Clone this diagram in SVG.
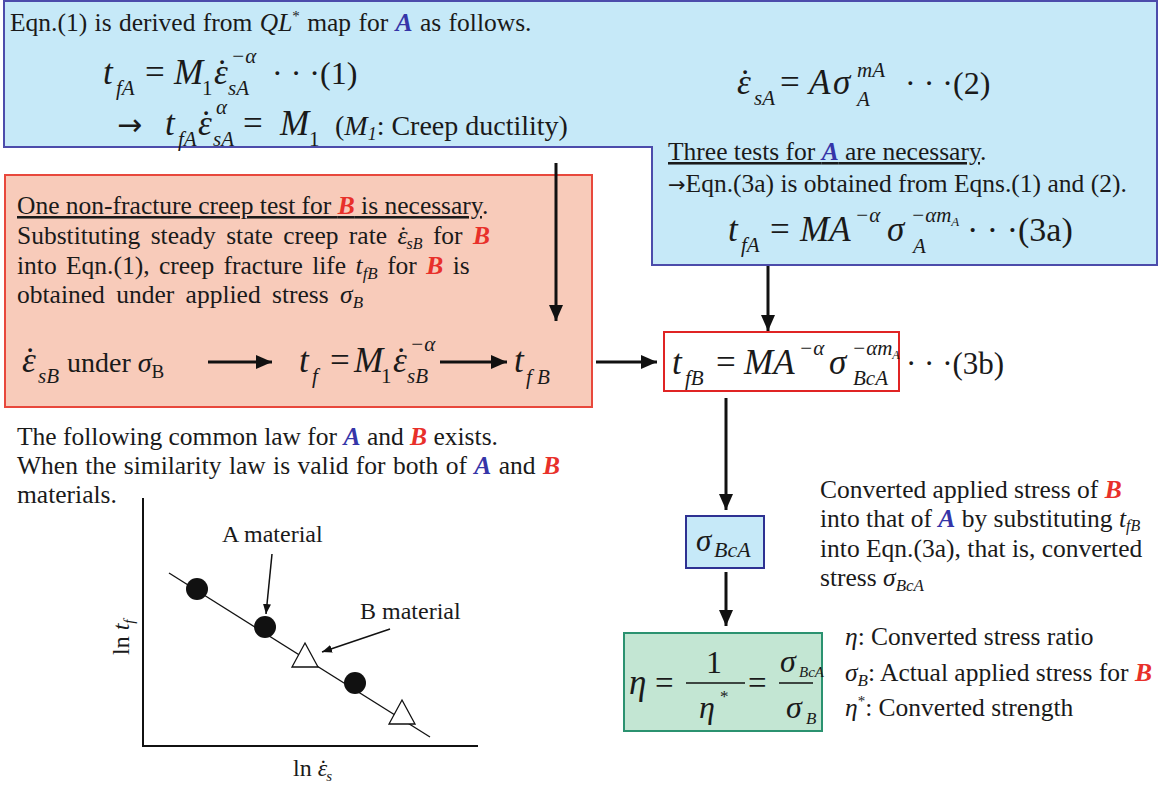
<svg xmlns="http://www.w3.org/2000/svg" width="1158" height="786" viewBox="0 0 1158 786">
<style>
text{font-family:"Liberation Serif","Times New Roman",serif;fill:#1a1a1a}
.i{font-style:italic}
.n{font-style:normal}
.A{fill:#3535a8;font-weight:bold;font-style:italic}
.B{fill:#e8302a;font-weight:bold;font-style:italic}
.b{font-size:25.5px}
.eq{font-size:35px}
.eqi{font-size:35px;font-style:italic}
.s{font-size:21px;font-style:italic}
.arr{font-family:"DejaVu Sans",sans-serif}
.u{text-decoration:underline}
.ar{stroke:#111;stroke-width:3;fill:none}
.thin{stroke:#111;stroke-width:1.5;fill:none}
</style>
<defs>
<marker id="ah" markerUnits="userSpaceOnUse" markerWidth="16" markerHeight="14" refX="16" refY="7" orient="auto"><path d="M0,0 L16,7 L0,14 z" fill="#111"/></marker>
<marker id="ahs" markerUnits="userSpaceOnUse" markerWidth="10" markerHeight="8" refX="10" refY="4" orient="auto"><path d="M0,0 L10,4 L0,8 z" fill="#111"/></marker>
</defs>

<g id="nodeA">
<path d="M4,1 H1157 V265 H652 V147 H4 Z" fill="#c6e9f8" stroke="#4c4cab" stroke-width="2"/>
<text x="10" y="31" class="b" word-spacing="1">Eqn.(1) is derived from <tspan class="i">QL</tspan><tspan dy="-10" font-size="15">*</tspan><tspan dy="10"> map for </tspan><tspan class="A">A</tspan> as follows.</text>
<text x="103" y="84" class="eqi">t</text><text x="116" y="95" class="s">fA</text>
<text x="145" y="84" class="eq">=</text>
<text x="174" y="84" class="eqi">M</text><text x="202" y="95" font-size="21">1</text>
<text x="214" y="84" class="eqi">&#x3B5;<tspan class="n" dx="-11.5">&#x2D9;</tspan></text>
<text x="231" y="63" class="s">&#x2212;&#x3B1;</text><text x="228" y="95" class="s">sA</text>
<text x="272" y="84" font-size="32">&#xB7; &#xB7; &#xB7;(1)</text>
<text x="117" y="135" class="arr" font-size="30">&#x2192;</text>
<text x="165" y="135" class="eqi">t</text><text x="178" y="146" class="s">fA</text>
<text x="198" y="135" class="eqi">&#x3B5;<tspan class="n" dx="-11.5">&#x2D9;</tspan></text>
<text x="216" y="114" class="s">&#x3B1;</text><text x="213" y="146" class="s">sA</text>
<text x="243" y="135" class="eq">=</text>
<text x="280" y="135" class="eqi">M</text><text x="309" y="146" font-size="21">1</text>
<text x="335" y="135" font-size="28">(<tspan class="i">M</tspan><tspan class="i" font-size="18" dy="5">1</tspan><tspan dy="-5">: Creep ductility)</tspan></text>

<text x="737" y="94" class="eqi">&#x3B5;<tspan class="n" dx="-11.5">&#x2D9;</tspan></text><text x="754" y="105" class="s">sA</text>
<text x="780" y="94" class="eq">=</text>
<text x="809" y="94" class="eqi">A</text><text x="833" y="94" class="eqi">&#x3C3;</text>
<text x="857" y="77" class="s" font-size="19">mA</text><text x="857" y="106" class="s" font-size="19">A</text>
<text x="905" y="94" font-size="32">&#xB7; &#xB7; &#xB7;(2)</text>

<text x="668" y="160" class="b"><tspan class="u">Three tests for <tspan class="A">A</tspan> are necessary</tspan>.</text>
<text x="668" y="192" class="b"><tspan class="arr" font-size="21">&#x2192;</tspan>Eqn.(3a) is obtained from Eqns.(1) and (2).</text>
<text x="728" y="241" class="eqi">t</text><text x="741" y="252" class="s">fA</text>
<text x="770" y="241" class="eq">=</text>
<text x="800" y="241" class="eqi">MA</text><text x="855" y="222" class="s">&#x2212;&#x3B1;</text>
<text x="887" y="241" class="eqi">&#x3C3;</text>
<text x="911" y="222" class="s" font-size="19">&#x2212;&#x3B1;m<tspan font-size="13" dy="4">A</tspan></text>
<text x="913" y="253" class="s" font-size="19">A</text>
<text x="967" y="241" font-size="34">&#xB7; &#xB7; &#xB7;(3a)</text>
</g>

<g id="nodeB">
<rect x="5" y="175" width="587" height="232" fill="#f8cbba" stroke="#e8483c" stroke-width="2"/>
<text x="17" y="214" class="b"><tspan class="u">One non-fracture creep test for <tspan class="B">B</tspan> is necessary</tspan>.</text>
<text x="17" y="244" class="b" word-spacing="4">Substituting steady state creep rate <tspan class="i">&#x3B5;</tspan><tspan dx="-8.5">&#x2D9;</tspan><tspan class="i" font-size="16" dx="-1" dy="5">sB</tspan><tspan dy="-5"> for </tspan><tspan class="B">B</tspan></text>
<text x="17" y="274" class="b" word-spacing="3">into Eqn.(1), creep fracture life <tspan class="i">t</tspan><tspan class="i" font-size="17" dy="5">fB</tspan><tspan dy="-5"> for </tspan><tspan class="B">B</tspan> is</text>
<text x="17" y="303" class="b" word-spacing="5">obtained under applied stress <tspan class="i">&#x3C3;</tspan><tspan class="i" font-size="17" dy="5">B</tspan></text>
<text x="22" y="372" class="eqi">&#x3B5;<tspan class="n" dx="-11.5">&#x2D9;</tspan></text><text x="38" y="383" class="s">sB</text>
<text x="67" y="372" font-size="28">under <tspan class="i">&#x3C3;</tspan><tspan font-size="19" dy="6">B</tspan></text>
<text x="299" y="372" class="eqi">t</text><text x="312" y="383" class="s">f</text>
<text x="330" y="372" class="eq">=</text>
<text x="354" y="372" class="eqi">M</text><text x="381" y="383" font-size="21">1</text>
<text x="393" y="372" class="eqi">&#x3B5;<tspan class="n" dx="-11.5">&#x2D9;</tspan></text>
<text x="410" y="351" class="s">&#x2212;&#x3B1;</text><text x="407" y="383" class="s">sB</text>
<text x="514" y="372" class="eqi">t</text><text x="526" y="384" class="s">f</text><text x="537" y="384" class="s">B</text>
</g>

<g id="nodeEq3b">
<rect x="664" y="332" width="235" height="59" fill="#fff" stroke="#e02424" stroke-width="2"/>
<text x="672" y="374" class="eqi">t</text><text x="685" y="385" class="s">fB</text>
<text x="716" y="374" class="eq">=</text>
<text x="744" y="374" class="eqi">MA</text><text x="799" y="355" class="s">&#x2212;&#x3B1;</text>
<text x="829" y="374" class="eqi">&#x3C3;</text>
<text x="852" y="355" class="s" font-size="18">&#x2212;&#x3B1;m<tspan font-size="12" dy="4">A</tspan></text>
<text x="853" y="385" class="s" font-size="19">BcA</text>
<text x="906" y="374" font-size="31">&#xB7; &#xB7; &#xB7;(3b)</text>
</g>

<g id="nodeSigma">
<rect x="686" y="516" width="78" height="52" fill="#c6e9f8" stroke="#2e3192" stroke-width="2"/>
<text x="696" y="551" class="i" font-size="31">&#x3C3;</text><text x="714" y="557" class="i" font-size="22">BcA</text>
</g>

<g id="noteSigma">
<text x="820" y="498" class="b">Converted applied stress of <tspan class="B">B</tspan></text>
<text x="820" y="527" class="b">into that of <tspan class="A">A</tspan> by substituting <tspan class="i">t</tspan><tspan class="i" font-size="16" dy="4">fB</tspan></text>
<text x="820" y="557" class="b">into Eqn.(3a), that is, converted</text>
<text x="820" y="586" class="b">stress <tspan class="i">&#x3C3;</tspan><tspan class="i" font-size="17" dy="5">BcA</tspan></text>
</g>

<g id="nodeEta">
<rect x="624" y="633" width="198" height="98" fill="#c3e6d3" stroke="#2b9270" stroke-width="2"/>
<text x="629" y="694" class="i" font-size="35">&#x3B7;</text>
<text x="655" y="694" font-size="33">=</text>
<line x1="686" y1="683" x2="745" y2="683" stroke="#111" stroke-width="1.5"/>
<text x="706" y="673" font-size="32">1</text>
<text x="699" y="718" class="i" font-size="32">&#x3B7;</text><text x="720" y="702" font-size="17">*</text>
<text x="748" y="694" font-size="33">=</text>
<line x1="779" y1="683" x2="813" y2="683" stroke="#111" stroke-width="1.5"/>
<text x="780" y="672" class="i" font-size="32">&#x3C3;</text><text x="799" y="677" class="i" font-size="15">BcA</text>
<text x="786" y="718" class="i" font-size="32">&#x3C3;</text><text x="806" y="724" class="i" font-size="17">B</text>
</g>

<g id="noteEta">
<text x="845" y="645" class="b"><tspan class="i">&#x3B7;</tspan>: Converted stress ratio</text>
<text x="845" y="681" class="b"><tspan class="i">&#x3C3;</tspan><tspan class="i" font-size="17" dy="5">B</tspan><tspan dy="-5">: Actual applied stress for </tspan><tspan class="B">B</tspan></text>
<text x="845" y="716" class="b"><tspan class="i">&#x3B7;</tspan><tspan font-size="15" dy="-10">*</tspan><tspan dy="10">: Converted strength</tspan></text>
</g>

<g id="law">
<text x="17" y="445" class="b" font-size="24">The following common law for <tspan class="A">A</tspan> and <tspan class="B">B</tspan> exists.</text>
<text x="17" y="474" class="b" word-spacing="1">When the similarity law is valid for both of <tspan class="A">A</tspan> and <tspan class="B">B</tspan></text>
<text x="17" y="503" class="b">materials.</text>
</g>

<g id="graph">
<path d="M143,498 V746 H478" stroke="#111" stroke-width="2" fill="none"/>
<line x1="169" y1="573" x2="430" y2="737" stroke="#111" stroke-width="1.3"/>
<circle cx="197" cy="589" r="11" fill="#111"/>
<circle cx="265" cy="627" r="11" fill="#111"/>
<circle cx="355" cy="683" r="11" fill="#111"/>
<path d="M305,643 L318,667 L292,667 Z" fill="#fff" stroke="#111" stroke-width="1.3"/>
<path d="M402,700 L415,724 L389,724 Z" fill="#fff" stroke="#111" stroke-width="1.3"/>
<text x="222" y="542" font-size="24">A material</text>
<text x="360" y="619" font-size="24">B material</text>
<line x1="272" y1="554" x2="266" y2="614" class="thin" marker-end="url(#ahs)"/>
<line x1="390" y1="629" x2="322" y2="652" class="thin" marker-end="url(#ahs)"/>
<text transform="translate(129,655) rotate(-90)" font-size="24">ln <tspan class="i">t</tspan><tspan class="i" font-size="15" dy="5">f</tspan></text>
<text x="293" y="776" font-size="24">ln <tspan class="i">&#x3B5;</tspan><tspan dx="-8">&#x2D9;</tspan><tspan class="i" font-size="15" dx="-1" dy="5">s</tspan></text>
</g>

<g id="connectors">
<line x1="556" y1="163" x2="556" y2="321" class="ar" marker-end="url(#ah)"/>
<line x1="768" y1="266" x2="768" y2="331" class="ar" marker-end="url(#ah)"/>
<line x1="596" y1="362" x2="657" y2="362" class="ar" marker-end="url(#ah)"/>
<line x1="208" y1="362" x2="272" y2="362" class="ar" marker-end="url(#ah)"/>
<line x1="440" y1="362" x2="507" y2="362" class="ar" marker-end="url(#ah)"/>
<line x1="726" y1="398" x2="726" y2="510" class="ar" marker-end="url(#ah)"/>
<line x1="726" y1="572" x2="726" y2="626" class="ar" marker-end="url(#ah)"/>
</g>
</svg>
